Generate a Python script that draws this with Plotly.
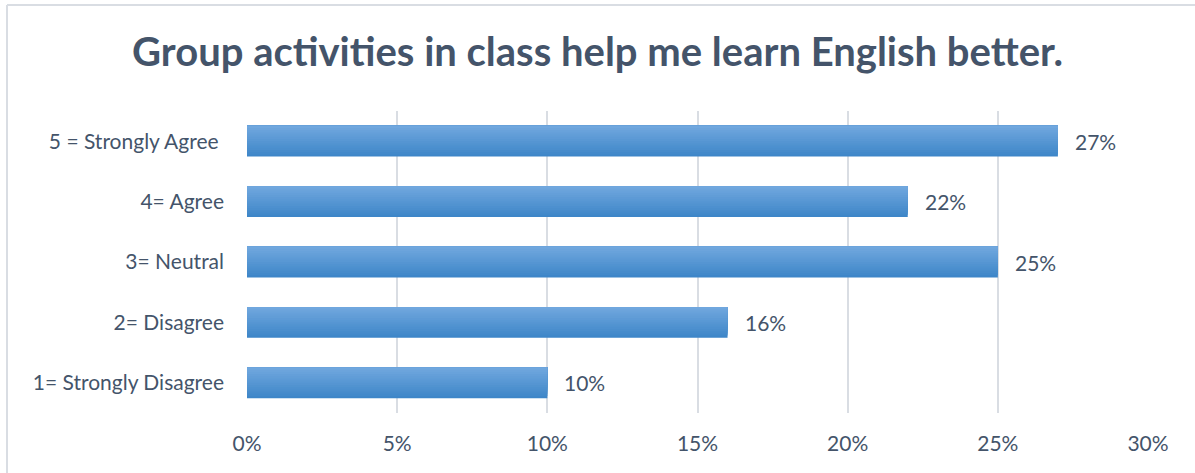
import plotly.graph_objects as go

# categories bottom -> top, as drawn
categories = ['1= Strongly Disagree', '2= Disagree', '3= Neutral', '4= Agree', '5 = Strongly Agree\u00a0']
values = [0.10, 0.16, 0.25, 0.22, 0.27]
labels = ['10%', '16%', '25%', '22%', '27%']
x_ticks = [0, 0.05, 0.10, 0.15, 0.20, 0.25, 0.30]
x_tick_labels = ['0%', '5%', '10%', '15%', '20%', '25%', '30%']

title = 'Group activities in class help me learn English better.'
text_color = '#44546a'
grid_color = '#d9dde3'
font = 'Lato'

# fake the vertical gradient of the bars: overlapping bars, each one
# starting a bit higher and a bit lighter than the previous
bar_width = 0.51
n_steps = 14
top_rgb = (0x70, 0xa7, 0xde)
bot_rgb = (0x3e, 0x86, 0xc8)

fig = go.Figure()
for i in range(n_steps):
    t = i / (n_steps - 1)
    r, g, b = [round(bc + (tc - bc) * t) for bc, tc in zip(bot_rgb, top_rgb)]
    start = -bar_width / 2 + i * bar_width / n_steps
    fig.add_trace(go.Bar(
        x=values,
        y=categories,
        orientation='h',
        width=bar_width / 2 - start,
        offset=start,
        marker=dict(color=f'rgb({r},{g},{b})', line=dict(width=0)),
        showlegend=False,
        hoverinfo='skip',
    ))

for v, c, lab in zip(values, categories, labels):
    fig.add_annotation(
        x=v, y=c, text=lab, showarrow=False,
        xanchor='left', xshift=15,
        font=dict(family=font, size=21, color=text_color),
    )

# chart border (only top and left edges visible in the crop)
top_y = (413 - 5) / 302
left_x = -240 / 901
fig.add_shape(type='line', xref='paper', yref='paper',
              x0=left_x, x1=948 / 901, y0=top_y, y1=top_y,
              line=dict(color=grid_color, width=2))
fig.add_shape(type='line', xref='paper', yref='paper',
              x0=left_x, x1=left_x, y0=top_y, y1=-60 / 302,
              line=dict(color=grid_color, width=2))

fig.update_layout(
    width=1195, height=473,
    paper_bgcolor='white', plot_bgcolor='white',
    barmode='overlay',
    margin=dict(l=247, r=47, t=111, b=60),
    title=dict(text=f'<b>{title}</b>', x=0.5, xanchor='center', y=0.89, yanchor='middle',
               font=dict(family=font, size=40, color=text_color)),
    font=dict(family=font, size=21, color=text_color),
)
fig.update_xaxes(
    range=[0, 0.30], tickvals=x_ticks, ticktext=x_tick_labels,
    showgrid=True, gridcolor=grid_color, gridwidth=2,
    zeroline=False, showline=False, ticklabelstandoff=16,
    tickfont=dict(family=font, size=21, color=text_color),
)
fig.update_yaxes(
    range=[-0.5, 4.5], showgrid=False, zeroline=False, showline=False,
    ticklabelstandoff=22,
    tickfont=dict(family=font, size=21, color=text_color),
)

fig.write_html('out.html', config={'displayModeBar': False},
               post_script="document.body.style.margin='0';")
